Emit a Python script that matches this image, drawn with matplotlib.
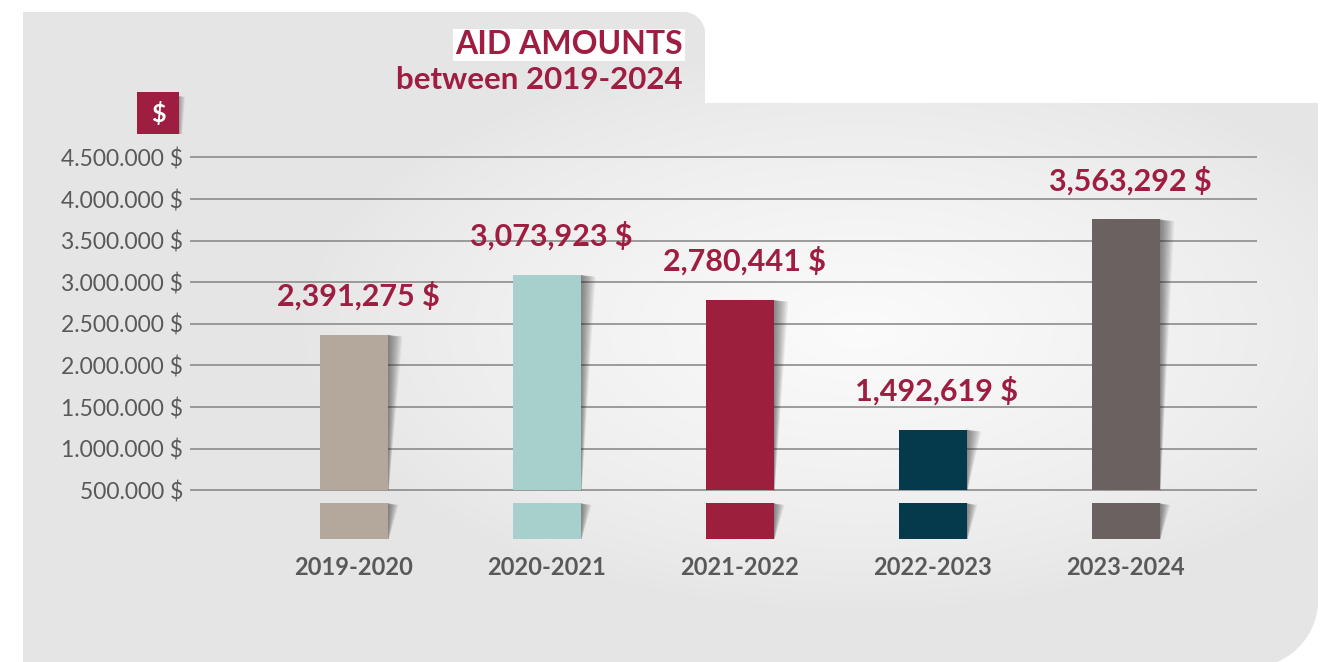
# Gráfico de barras: montos de ayuda 2019-2024, con fondo gris redondeado y eje cortado
import matplotlib
matplotlib.use("Agg")
import matplotlib.pyplot as plt
import numpy as np
from matplotlib.path import Path
from matplotlib.patches import PathPatch, Rectangle, Polygon
from matplotlib.ticker import FuncFormatter

# Datos
periodos = ["2019-2020", "2020-2021", "2021-2022", "2022-2023", "2023-2024"]
alturas = [2368000, 3088000, 2787000, 1228000, 3756000]   # altura visual de las barras
montos = ["2,391,275 $", "3,073,923 $", "2,780,441 $", "1,492,619 $", "3,563,292 $"]
ticks_y = [500000, 1000000, 1500000, 2000000, 2500000, 3000000, 3500000, 4000000, 4500000]
colores = ["#b3a89b", "#a7cfcb", "#9c1f3e", "#053a4d", "#6b6161"]

titulo = "AID AMOUNTS"
subtitulo = "between 2019-2024"

GRANATE = "#9e1d40"
GRIS_TXT = "#595959"
W, H = 1329, 662

plt.rcParams['font.family'] = ['Lato', 'DejaVu Sans']


def dibujar():
    fig = plt.figure(figsize=(W / 100, H / 100), dpi=100)
    fig.patch.set_facecolor("white")

    # 1. Fondo (coordenadas en píxeles)
    bg = fig.add_axes([0, 0, 1, 1])
    bg.set_xlim(0, W)
    bg.set_ylim(H, 0)
    bg.axis("off")

    k = 0.5523
    r1, r2 = 22, 67
    verts = [(23, 670), (23, 12), (705 - r1, 12)]
    codes = [Path.MOVETO, Path.LINETO, Path.LINETO]
    verts += [(705 - r1 + k * r1, 12), (705, 12 + r1 - k * r1), (705, 12 + r1)]
    codes += [Path.CURVE4] * 3
    verts += [(705, 103), (1318, 103), (1318, 600)]
    codes += [Path.LINETO] * 3
    verts += [(1318, 600 + k * r2), (1251 + k * r2, 667), (1251, 667)]
    codes += [Path.CURVE4] * 3
    verts += [(23, 670), (23, 670)]
    codes += [Path.LINETO, Path.CLOSEPOLY]
    panel = PathPatch(Path(verts, codes), facecolor="#e5e5e5", edgecolor="none")
    bg.add_patch(panel)

    # degradado claro en el centro
    yy, xx = np.mgrid[0:H, 0:W]
    d = np.sqrt(((xx - 860) / 560.0) ** 2 + ((yy - 330) / 280.0) ** 2)
    t = np.clip(1 - d, 0, 1) ** 0.8
    val = 0.9 + (0.985 - 0.9) * t
    img = np.dstack([val, val, val])
    im = bg.imshow(img, extent=(0, W, H, 0), interpolation="bilinear", zorder=1)
    im.set_clip_path(panel)

    # Cuadro "$"
    for j in range(6):
        bg.add_patch(Polygon([(179, 96), (179 + 6 - j, 97), (179 + 3 - j * 0.5, 134), (179, 134)],
                             facecolor="#333333", alpha=0.08, edgecolor="none", zorder=2))
    bg.add_patch(Rectangle((137, 92), 42, 42, facecolor=GRANATE, edgecolor="none", zorder=3))
    bg.text(158, 114, "$", color="white", fontsize=18, fontweight="bold",
            ha="center", va="center", zorder=4)

    # Títulos
    fig.text(683 / W, 1 - 45 / H, titulo, color=GRANATE, fontsize=23, fontweight="bold",
             ha="right", va="center",
             bbox=dict(boxstyle="square,pad=0.06", facecolor="white", edgecolor="none"))
    fig.text(683 / W, 1 - 80 / H, subtitulo, color=GRANATE, fontsize=22.5, fontweight="bold",
             ha="right", va="center")

    # 2. Ejes del gráfico
    y_bajo, y_alto = -85337, 4590144
    corte_bajo, corte_alto = 343750, 500000
    ax = fig.add_axes([190 / W, 1 - 539 / H, (1257 - 190) / W, (539 - 150) / H])
    ax.patch.set_visible(False)
    ax.set_xlim(-0.85, 4.68)
    ax.set_ylim(y_bajo, y_alto)
    for s in ax.spines.values():
        s.set_visible(False)

    ax.set_yticks(ticks_y)
    ax.yaxis.set_major_formatter(FuncFormatter(lambda v, p: f"{v:,.0f}".replace(",", ".") + " $"))
    ax.yaxis.grid(True, color="#8c8c8c", linewidth=1.2)
    ax.set_axisbelow(True)
    ax.tick_params(axis="y", length=0, pad=5, labelsize=16.5, labelcolor=GRIS_TXT)

    x = np.arange(len(periodos))
    ax.set_xticks(x)
    ax.set_xticklabels(periodos, fontweight="bold")
    ax.tick_params(axis="x", length=0, pad=12, labelsize=17, labelcolor=GRIS_TXT)

    ancho = 0.352
    alturas_arr = np.array(alturas)
    # sombras ahusadas a la derecha de cada barra
    for i, h in enumerate(alturas_arr):
        xr = i + ancho / 2
        for (sup, inf, w_sup) in [(h, corte_alto, 0.075), (corte_bajo, y_bajo, 0.055)]:
            n = 10
            for j in range(1, n + 1):
                f = j / n
                ax.add_patch(Polygon([(xr, sup), (xr + w_sup * f, sup - 20000),
                                      (xr + 0.004 * f, inf), (xr, inf)],
                                     facecolor="#2a2a2a", alpha=0.07, edgecolor="none", zorder=1))

    ax.bar(x, alturas_arr - corte_alto, bottom=corte_alto, width=ancho, color=colores, zorder=2)
    ax.bar(x, corte_bajo - y_bajo, bottom=y_bajo, width=ancho, color=colores, zorder=2)

    for i, h in enumerate(alturas_arr):
        ax.annotate(montos[i], (i, h), xytext=(3, 28), textcoords="offset points",
                    ha="center", va="center", color=GRANATE, fontsize=22, fontweight="bold")

    plt.savefig("out.png", dpi=100)


if __name__ == "__main__":
    dibujar()
